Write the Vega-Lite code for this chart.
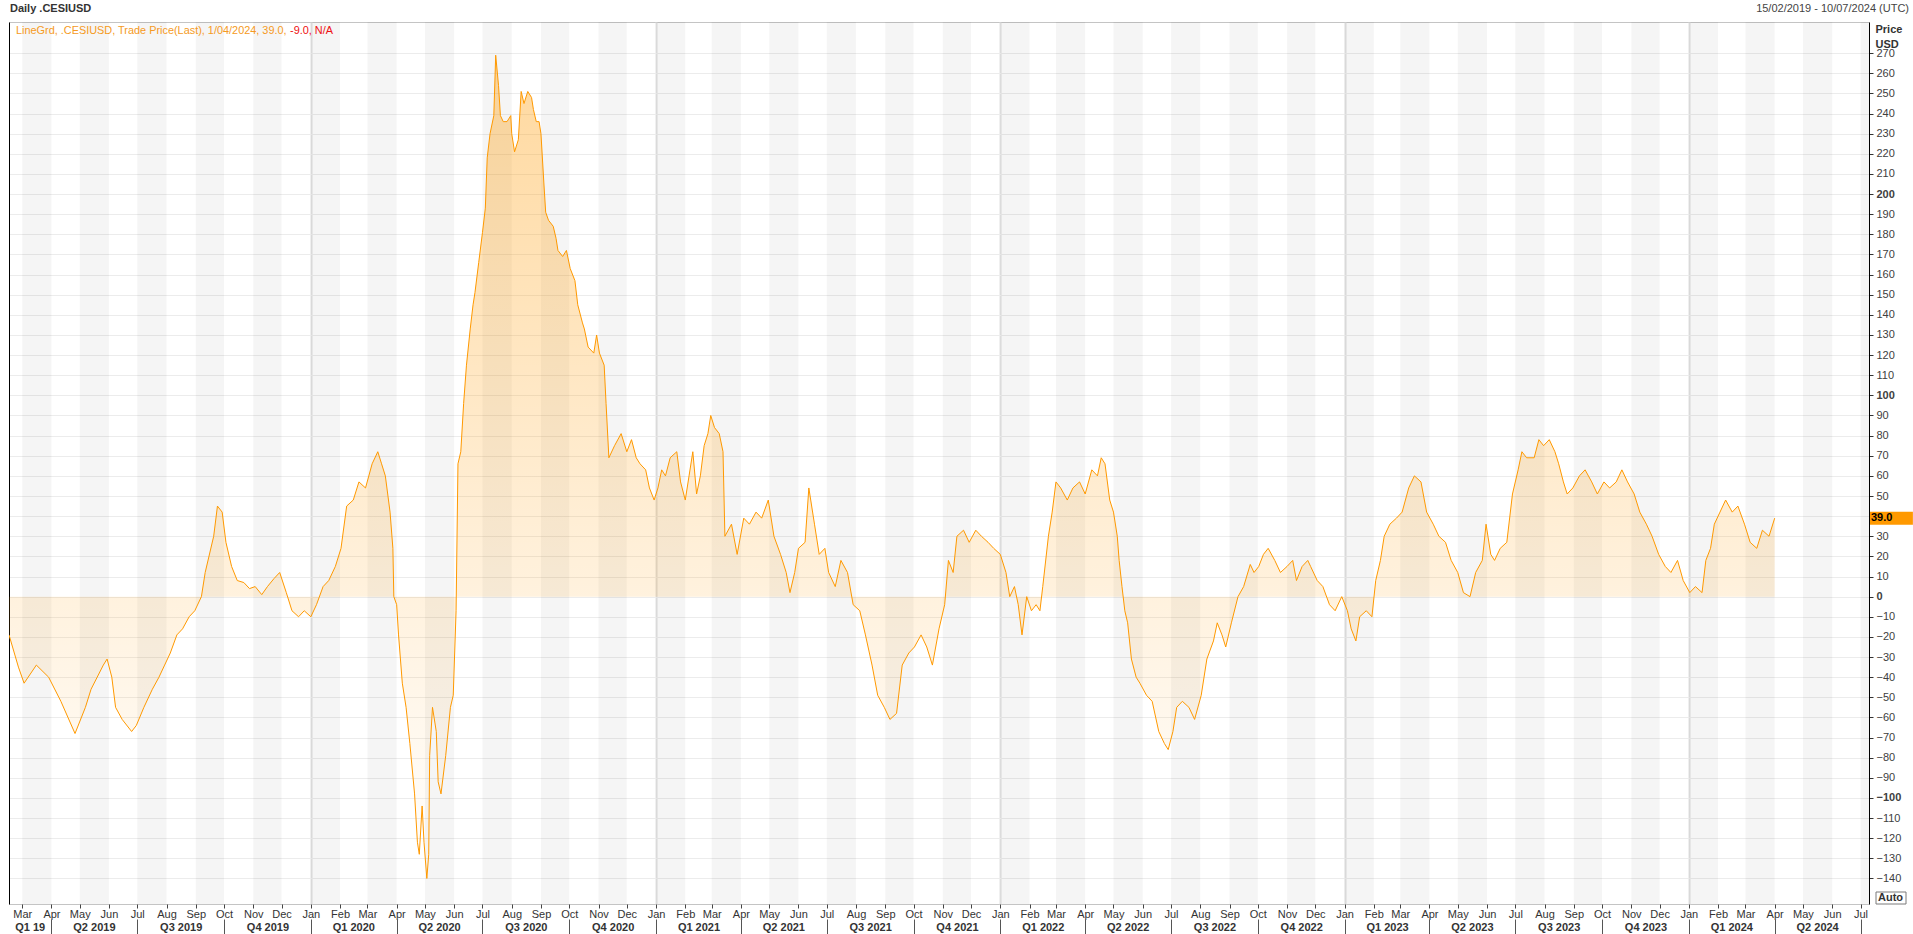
{
  "$schema": "https://vega.github.io/schema/vega-lite/v6.json",
  "width": 1860,
  "height": 882,
  "autosize": {"type": "none"},
  "padding": {"left": 9, "top": 22, "right": 44, "bottom": 30},
  "background": "white",
  "config": {
    "font": "Liberation Sans",
    "view": {"stroke": "#c4c4c4", "strokeWidth": 1},
    "axis": {"labelFont": "Liberation Sans", "titleFont": "Liberation Sans"},
    "text": {"font": "Liberation Sans"}
  },
  "datasets": {
    "cesi": [
      {"date":"2019-02-15","value":-19},{"date":"2019-02-25","value":-35},{"date":"2019-03-03","value":-43},{"date":"2019-03-16","value":-34},{"date":"2019-03-29","value":-40},{"date":"2019-04-11","value":-52},{"date":"2019-04-26","value":-68},{"date":"2019-05-07","value":-55},{"date":"2019-05-13","value":-46},{"date":"2019-05-26","value":-34},{"date":"2019-05-30","value":-31},{"date":"2019-06-04","value":-40},{"date":"2019-06-08","value":-55},{"date":"2019-06-15","value":-61},{"date":"2019-06-25","value":-67},{"date":"2019-06-30","value":-64},{"date":"2019-07-08","value":-55},{"date":"2019-07-17","value":-46},{"date":"2019-07-24","value":-40},{"date":"2019-07-30","value":-34},{"date":"2019-08-05","value":-28},{"date":"2019-08-12","value":-19},{"date":"2019-08-18","value":-16},{"date":"2019-08-25","value":-10},{"date":"2019-08-31","value":-7},{"date":"2019-09-07","value":0},{"date":"2019-09-11","value":12},{"date":"2019-09-20","value":30},{"date":"2019-09-24","value":45},{"date":"2019-09-29","value":42},{"date":"2019-10-03","value":27},{"date":"2019-10-09","value":15},{"date":"2019-10-15","value":8},{"date":"2019-10-22","value":7},{"date":"2019-10-28","value":4},{"date":"2019-11-03","value":5},{"date":"2019-11-10","value":1},{"date":"2019-11-16","value":5},{"date":"2019-11-23","value":9},{"date":"2019-11-29","value":12},{"date":"2019-12-06","value":2},{"date":"2019-12-12","value":-7},{"date":"2019-12-19","value":-10},{"date":"2019-12-25","value":-7},
      {"date":"2020-01-01","value":-10},{"date":"2020-01-07","value":-4},{"date":"2020-01-14","value":5},{"date":"2020-01-20","value":8},{"date":"2020-01-27","value":15},{"date":"2020-02-02","value":24},{"date":"2020-02-08","value":45},{"date":"2020-02-15","value":48},{"date":"2020-02-21","value":57},{"date":"2020-02-28","value":54},{"date":"2020-03-06","value":66},{"date":"2020-03-12","value":72},{"date":"2020-03-16","value":66},{"date":"2020-03-20","value":60},{"date":"2020-03-25","value":42},{"date":"2020-03-28","value":24},{"date":"2020-03-29","value":0},{"date":"2020-04-01","value":-4},{"date":"2020-04-03","value":-19},{"date":"2020-04-07","value":-43},{"date":"2020-04-11","value":-55},{"date":"2020-04-15","value":-73},{"date":"2020-04-20","value":-98},{"date":"2020-04-23","value":-122},{"date":"2020-04-25","value":-128},{"date":"2020-04-28","value":-104},{"date":"2020-04-30","value":-122},{"date":"2020-05-03","value":-140},{"date":"2020-05-05","value":-128},{"date":"2020-05-06","value":-79},{"date":"2020-05-09","value":-55},{"date":"2020-05-13","value":-67},{"date":"2020-05-15","value":-92},{"date":"2020-05-18","value":-98},{"date":"2020-05-23","value":-79},{"date":"2020-05-28","value":-55},{"date":"2020-05-31","value":-49},{"date":"2020-06-03","value":-7},{"date":"2020-06-05","value":66},{"date":"2020-06-08","value":72},{"date":"2020-06-11","value":96},{"date":"2020-06-14","value":115},{"date":"2020-06-18","value":133},{"date":"2020-06-21","value":145},{"date":"2020-06-23","value":151},{"date":"2020-06-27","value":166},{"date":"2020-07-01","value":181},{"date":"2020-07-04","value":193},{"date":"2020-07-06","value":218},{"date":"2020-07-09","value":230},{"date":"2020-07-13","value":239},{"date":"2020-07-15","value":269},{"date":"2020-07-18","value":254},{"date":"2020-07-20","value":239},{"date":"2020-07-23","value":236},{"date":"2020-07-27","value":236},{"date":"2020-07-31","value":239},{"date":"2020-08-01","value":230},{"date":"2020-08-04","value":221},{"date":"2020-08-08","value":227},{"date":"2020-08-11","value":251},{"date":"2020-08-14","value":245},{"date":"2020-08-18","value":251},{"date":"2020-08-22","value":248},{"date":"2020-08-24","value":242},{"date":"2020-08-27","value":236},{"date":"2020-08-30","value":236},{"date":"2020-09-01","value":230},{"date":"2020-09-04","value":206},{"date":"2020-09-06","value":191},{"date":"2020-09-09","value":187},{"date":"2020-09-14","value":184},{"date":"2020-09-17","value":178},{"date":"2020-09-19","value":172},{"date":"2020-09-24","value":169},{"date":"2020-09-28","value":172},{"date":"2020-10-02","value":163},{"date":"2020-10-07","value":157},{"date":"2020-10-10","value":145},{"date":"2020-10-15","value":136},{"date":"2020-10-17","value":133},{"date":"2020-10-21","value":124},{"date":"2020-10-27","value":121},{"date":"2020-10-30","value":130},{"date":"2020-11-02","value":121},{"date":"2020-11-07","value":115},{"date":"2020-11-09","value":96},{"date":"2020-11-12","value":69},{"date":"2020-11-18","value":75},{"date":"2020-11-25","value":81},{"date":"2020-12-01","value":72},{"date":"2020-12-06","value":78},{"date":"2020-12-11","value":69},{"date":"2020-12-15","value":66},{"date":"2020-12-21","value":63},{"date":"2020-12-25","value":54},{"date":"2020-12-30","value":48},
      {"date":"2021-01-03","value":54},{"date":"2021-01-07","value":63},{"date":"2021-01-11","value":60},{"date":"2021-01-16","value":69},{"date":"2021-01-23","value":72},{"date":"2021-01-27","value":57},{"date":"2021-02-01","value":48},{"date":"2021-02-05","value":60},{"date":"2021-02-09","value":72},{"date":"2021-02-13","value":51},{"date":"2021-02-17","value":60},{"date":"2021-02-21","value":75},{"date":"2021-02-25","value":81},{"date":"2021-02-28","value":90},{"date":"2021-03-04","value":84},{"date":"2021-03-09","value":81},{"date":"2021-03-13","value":72},{"date":"2021-03-15","value":30},{"date":"2021-03-22","value":36},{"date":"2021-03-28","value":21},{"date":"2021-04-04","value":39},{"date":"2021-04-10","value":36},{"date":"2021-04-17","value":42},{"date":"2021-04-23","value":39},{"date":"2021-04-30","value":48},{"date":"2021-05-06","value":30},{"date":"2021-05-13","value":21},{"date":"2021-05-19","value":12},{"date":"2021-05-23","value":2},{"date":"2021-05-28","value":12},{"date":"2021-06-01","value":24},{"date":"2021-06-08","value":27},{"date":"2021-06-12","value":54},{"date":"2021-06-14","value":48},{"date":"2021-06-18","value":36},{"date":"2021-06-23","value":21},{"date":"2021-06-29","value":24},{"date":"2021-07-03","value":12},{"date":"2021-07-10","value":5},{"date":"2021-07-16","value":18},{"date":"2021-07-23","value":12},{"date":"2021-07-29","value":-4},{"date":"2021-08-05","value":-7},{"date":"2021-08-11","value":-19},{"date":"2021-08-18","value":-34},{"date":"2021-08-24","value":-49},{"date":"2021-08-31","value":-55},{"date":"2021-09-06","value":-61},{"date":"2021-09-13","value":-58},{"date":"2021-09-19","value":-34},{"date":"2021-09-26","value":-28},{"date":"2021-10-02","value":-25},{"date":"2021-10-09","value":-19},{"date":"2021-10-15","value":-25},{"date":"2021-10-21","value":-34},{"date":"2021-10-28","value":-16},{"date":"2021-11-03","value":-4},{"date":"2021-11-07","value":18},{"date":"2021-11-12","value":12},{"date":"2021-11-16","value":30},{"date":"2021-11-23","value":33},{"date":"2021-11-29","value":27},{"date":"2021-12-06","value":33},{"date":"2021-12-12","value":30},{"date":"2021-12-19","value":27},{"date":"2021-12-25","value":24},
      {"date":"2022-01-01","value":21},{"date":"2022-01-07","value":12},{"date":"2022-01-11","value":0},{"date":"2022-01-16","value":5},{"date":"2022-01-20","value":-4},{"date":"2022-01-24","value":-19},{"date":"2022-01-29","value":0},{"date":"2022-02-03","value":-7},{"date":"2022-02-08","value":-4},{"date":"2022-02-12","value":-7},{"date":"2022-02-15","value":5},{"date":"2022-02-21","value":30},{"date":"2022-02-25","value":42},{"date":"2022-03-01","value":57},{"date":"2022-03-06","value":54},{"date":"2022-03-13","value":48},{"date":"2022-03-19","value":54},{"date":"2022-03-26","value":57},{"date":"2022-04-01","value":51},{"date":"2022-04-08","value":63},{"date":"2022-04-14","value":60},{"date":"2022-04-18","value":69},{"date":"2022-04-22","value":66},{"date":"2022-04-27","value":48},{"date":"2022-05-01","value":42},{"date":"2022-05-05","value":30},{"date":"2022-05-07","value":18},{"date":"2022-05-10","value":5},{"date":"2022-05-13","value":-7},{"date":"2022-05-16","value":-13},{"date":"2022-05-20","value":-31},{"date":"2022-05-25","value":-40},{"date":"2022-05-29","value":-43},{"date":"2022-06-05","value":-49},{"date":"2022-06-11","value":-52},{"date":"2022-06-18","value":-67},{"date":"2022-06-24","value":-73},{"date":"2022-06-28","value":-76},{"date":"2022-07-03","value":-67},{"date":"2022-07-07","value":-55},{"date":"2022-07-13","value":-52},{"date":"2022-07-20","value":-55},{"date":"2022-07-26","value":-61},{"date":"2022-08-02","value":-49},{"date":"2022-08-08","value":-31},{"date":"2022-08-15","value":-22},{"date":"2022-08-19","value":-13},{"date":"2022-08-24","value":-19},{"date":"2022-08-28","value":-25},{"date":"2022-09-03","value":-13},{"date":"2022-09-10","value":0},{"date":"2022-09-16","value":5},{"date":"2022-09-23","value":16},{"date":"2022-09-27","value":12},{"date":"2022-10-02","value":15},{"date":"2022-10-07","value":21},{"date":"2022-10-12","value":24},{"date":"2022-10-19","value":18},{"date":"2022-10-25","value":12},{"date":"2022-11-01","value":15},{"date":"2022-11-07","value":18},{"date":"2022-11-11","value":8},{"date":"2022-11-17","value":15},{"date":"2022-11-23","value":18},{"date":"2022-11-26","value":15},{"date":"2022-12-03","value":8},{"date":"2022-12-09","value":5},{"date":"2022-12-16","value":-4},{"date":"2022-12-22","value":-7},{"date":"2022-12-29","value":0},
      {"date":"2023-01-04","value":-7},{"date":"2023-01-08","value":-16},{"date":"2023-01-13","value":-22},{"date":"2023-01-17","value":-10},{"date":"2023-01-24","value":-7},{"date":"2023-01-30","value":-10},{"date":"2023-02-03","value":8},{"date":"2023-02-08","value":18},{"date":"2023-02-12","value":30},{"date":"2023-02-18","value":36},{"date":"2023-02-25","value":39},{"date":"2023-03-03","value":42},{"date":"2023-03-10","value":54},{"date":"2023-03-16","value":60},{"date":"2023-03-23","value":57},{"date":"2023-03-29","value":42},{"date":"2023-04-05","value":36},{"date":"2023-04-11","value":30},{"date":"2023-04-18","value":27},{"date":"2023-04-24","value":18},{"date":"2023-05-01","value":12},{"date":"2023-05-07","value":2},{"date":"2023-05-14","value":0},{"date":"2023-05-20","value":12},{"date":"2023-05-27","value":18},{"date":"2023-05-31","value":36},{"date":"2023-06-05","value":21},{"date":"2023-06-09","value":18},{"date":"2023-06-15","value":24},{"date":"2023-06-22","value":27},{"date":"2023-06-28","value":51},{"date":"2023-07-04","value":63},{"date":"2023-07-08","value":72},{"date":"2023-07-13","value":69},{"date":"2023-07-21","value":69},{"date":"2023-07-26","value":78},{"date":"2023-07-31","value":75},{"date":"2023-08-06","value":78},{"date":"2023-08-12","value":72},{"date":"2023-08-16","value":66},{"date":"2023-08-21","value":57},{"date":"2023-08-25","value":51},{"date":"2023-08-31","value":54},{"date":"2023-09-07","value":60},{"date":"2023-09-13","value":63},{"date":"2023-09-20","value":57},{"date":"2023-09-26","value":51},{"date":"2023-10-03","value":57},{"date":"2023-10-09","value":54},{"date":"2023-10-16","value":57},{"date":"2023-10-22","value":63},{"date":"2023-10-28","value":57},{"date":"2023-11-04","value":51},{"date":"2023-11-10","value":42},{"date":"2023-11-17","value":36},{"date":"2023-11-23","value":30},{"date":"2023-11-30","value":21},{"date":"2023-12-07","value":15},{"date":"2023-12-13","value":12},{"date":"2023-12-20","value":18},{"date":"2023-12-26","value":8},
      {"date":"2024-01-02","value":2},{"date":"2024-01-08","value":5},{"date":"2024-01-15","value":2},{"date":"2024-01-19","value":18},{"date":"2024-01-24","value":24},{"date":"2024-01-28","value":36},{"date":"2024-02-03","value":42},{"date":"2024-02-09","value":48},{"date":"2024-02-16","value":42},{"date":"2024-02-22","value":45},{"date":"2024-02-29","value":36},{"date":"2024-03-06","value":27},{"date":"2024-03-13","value":24},{"date":"2024-03-19","value":33},{"date":"2024-03-26","value":30},{"date":"2024-04-01","value":39}
    ],
    "last": [{"date": "2024-04-01", "value": 39}],
    "bands": [
      {"start":"2019-03-01","end":"2019-04-01"},{"start":"2019-05-01","end":"2019-06-01"},{"start":"2019-07-01","end":"2019-08-01"},{"start":"2019-09-01","end":"2019-10-01"},{"start":"2019-11-01","end":"2019-12-01"},
      {"start":"2020-01-01","end":"2020-02-01"},{"start":"2020-03-01","end":"2020-04-01"},{"start":"2020-05-01","end":"2020-06-01"},{"start":"2020-07-01","end":"2020-08-01"},{"start":"2020-09-01","end":"2020-10-01"},{"start":"2020-11-01","end":"2020-12-01"},
      {"start":"2021-01-01","end":"2021-02-01"},{"start":"2021-03-01","end":"2021-04-01"},{"start":"2021-05-01","end":"2021-06-01"},{"start":"2021-07-01","end":"2021-08-01"},{"start":"2021-09-01","end":"2021-10-01"},{"start":"2021-11-01","end":"2021-12-01"},
      {"start":"2022-01-01","end":"2022-02-01"},{"start":"2022-03-01","end":"2022-04-01"},{"start":"2022-05-01","end":"2022-06-01"},{"start":"2022-07-01","end":"2022-08-01"},{"start":"2022-09-01","end":"2022-10-01"},{"start":"2022-11-01","end":"2022-12-01"},
      {"start":"2023-01-01","end":"2023-02-01"},{"start":"2023-03-01","end":"2023-04-01"},{"start":"2023-05-01","end":"2023-06-01"},{"start":"2023-07-01","end":"2023-08-01"},{"start":"2023-09-01","end":"2023-10-01"},{"start":"2023-11-01","end":"2023-12-01"},
      {"start":"2024-01-01","end":"2024-02-01"},{"start":"2024-03-01","end":"2024-04-01"},{"start":"2024-05-01","end":"2024-06-01"},{"start":"2024-07-01","end":"2024-08-01"}
    ],
    "title": [{"label": "Daily .CESIUSD"}],
    "legendA": [{"label": "LineGrd, .CESIUSD, Trade Price(Last), 1/04/2024, 39.0,"}],
    "legendB": [{"label": "-9.0, N/A"}],
    "range": [{"label": "15/02/2019 - 10/07/2024 (UTC)"}],
    "auto": [{"label": "Auto"}]
  },
  "resolve": {"axis": {"x": "independent", "y": "independent"}},
  "layer": [
    {
      "data": {"name": "bands"},
      "mark": {"type": "rect", "color": "#000000", "opacity": 0.04, "clip": true},
      "encoding": {
        "x": {"field": "start", "type": "temporal",
          "scale": {"type": "utc", "domain": [{"year": 2019, "month": 2, "date": 15, "utc": true}, {"year": 2024, "month": 7, "date": 10, "utc": true}]},
          "axis": {"orient": "bottom", "title": null, "domain": false, "ticks": false, "tickSize": 0, "grid": false,
            "values": [
              {"year":2019,"month":3,"date":9,"utc":true},{"year":2019,"month":5,"date":16,"utc":true},{"year":2019,"month":8,"date":16,"utc":true},{"year":2019,"month":11,"date":16,"utc":true},
              {"year":2020,"month":2,"date":15,"utc":true},{"year":2020,"month":5,"date":16,"utc":true},{"year":2020,"month":8,"date":16,"utc":true},{"year":2020,"month":11,"date":16,"utc":true},
              {"year":2021,"month":2,"date":15,"utc":true},{"year":2021,"month":5,"date":16,"utc":true},{"year":2021,"month":8,"date":16,"utc":true},{"year":2021,"month":11,"date":16,"utc":true},
              {"year":2022,"month":2,"date":15,"utc":true},{"year":2022,"month":5,"date":16,"utc":true},{"year":2022,"month":8,"date":16,"utc":true},{"year":2022,"month":11,"date":16,"utc":true},
              {"year":2023,"month":2,"date":15,"utc":true},{"year":2023,"month":5,"date":16,"utc":true},{"year":2023,"month":8,"date":16,"utc":true},{"year":2023,"month":11,"date":16,"utc":true},
              {"year":2024,"month":2,"date":15,"utc":true},{"year":2024,"month":5,"date":16,"utc":true}
            ],
            "labelExpr": "'Q' + utcquarter(datum.value) + ' ' + ((utcyear(datum.value) === 2019 && utcquarter(datum.value) === 1) ? '19' : utcyear(datum.value))",
            "labelFontWeight": "bold", "labelFontSize": 11, "labelColor": "#333333", "labelPadding": 17, "labelOverlap": false, "labelFlush": false}
        },
        "x2": {"field": "end"}
      }
    },
    {
      "data": {"name": "cesi"},
      "mark": {"type": "area", "clip": true, "fill": {"gradient": "linear", "x1": 0, "y1": 0, "x2": 0, "y2": 1, "stops": [{"offset": 0, "color": "rgba(255,153,0,0.38)"}, {"offset": 1, "color": "rgba(255,153,0,0)"}]}},
      "encoding": {
        "x": {"field": "date", "type": "temporal",
          "scale": {"type": "utc", "domain": [{"year": 2019, "month": 2, "date": 15, "utc": true}, {"year": 2024, "month": 7, "date": 10, "utc": true}]},
          "axis": {"orient": "bottom", "title": null, "domain": false, "tickCount": {"interval": "month", "step": 1},
            "labelExpr": "utcFormat(datum.value, '%b')",
            "tickSize": 4, "tickColor": "#444444", "labelPadding": 0, "labelFontSize": 11, "labelColor": "#333333", "labelOverlap": false, "labelFlush": false,
            "grid": true, "gridWidth": 2, "gridColor": {"condition": {"test": "utcmonth(datum.value) === 0", "value": "#e2e2e2"}, "value": "rgba(0,0,0,0)"}}
        },
        "y": {"field": "value", "type": "quantitative",
          "scale": {"domain": [-152.7, 285.5], "nice": false, "zero": false},
          "axis": {"orient": "right", "values": [-140,-130,-120,-110,-100,-90,-80,-70,-60,-50,-40,-30,-20,-10,0,10,20,30,40,50,60,70,80,90,100,110,120,130,140,150,160,170,180,190,200,210,220,230,240,250,260,270],
            "labelExpr": "datum.value === 40 ? '' : datum.label",
            "tickSize": 4, "tickColor": "#333333", "labelPadding": 3, "labelAlign": "left", "labelFontSize": 11, "labelColor": "#404040",
            "labelFontWeight": {"condition": {"test": "datum.value % 100 === 0", "value": "bold"}, "value": "normal"},
            "labelOverlap": false, "labelFlush": false,
            "domain": true, "domainColor": "#000000", "domainWidth": 1,
            "grid": true, "gridColor": "#ececec", "gridWidth": 1,
            "title": ["Price", "USD"], "titleAngle": 0, "titleAlign": "left", "titleBaseline": "alphabetic", "titleX": 6, "titleY": 10, "titleFontSize": 11, "titleFontWeight": "bold", "titleColor": "#333333", "titleLineHeight": 15}
        },
        "y2": {"datum": 0}
      }
    },
    {
      "data": {"name": "cesi"},
      "mark": {"type": "line", "color": "#ff9900", "strokeWidth": 1, "clip": true},
      "encoding": {
        "x": {"field": "date", "type": "temporal",
          "scale": {"type": "utc", "domain": [{"year": 2019, "month": 2, "date": 15, "utc": true}, {"year": 2024, "month": 7, "date": 10, "utc": true}]},
          "axis": {"orient": "bottom", "title": null, "domain": false, "labels": false, "grid": false, "offset": 15, "tickSize": 15, "tickColor": "#555555",
            "values": [
              {"year":2019,"month":4,"date":1,"utc":true},{"year":2019,"month":7,"date":1,"utc":true},{"year":2019,"month":10,"date":1,"utc":true},
              {"year":2020,"month":1,"date":1,"utc":true},{"year":2020,"month":4,"date":1,"utc":true},{"year":2020,"month":7,"date":1,"utc":true},{"year":2020,"month":10,"date":1,"utc":true},
              {"year":2021,"month":1,"date":1,"utc":true},{"year":2021,"month":4,"date":1,"utc":true},{"year":2021,"month":7,"date":1,"utc":true},{"year":2021,"month":10,"date":1,"utc":true},
              {"year":2022,"month":1,"date":1,"utc":true},{"year":2022,"month":4,"date":1,"utc":true},{"year":2022,"month":7,"date":1,"utc":true},{"year":2022,"month":10,"date":1,"utc":true},
              {"year":2023,"month":1,"date":1,"utc":true},{"year":2023,"month":4,"date":1,"utc":true},{"year":2023,"month":7,"date":1,"utc":true},{"year":2023,"month":10,"date":1,"utc":true},
              {"year":2024,"month":1,"date":1,"utc":true},{"year":2024,"month":4,"date":1,"utc":true},{"year":2024,"month":7,"date":1,"utc":true}
            ]}
        },
        "y": {"field": "value", "type": "quantitative",
          "axis": {"orient": "left", "title": null, "labels": false, "ticks": false, "grid": false, "domain": true, "domainColor": "#000000", "domainWidth": 1}}
      }
    },
    {
      "data": {"name": "last"},
      "mark": {"type": "point", "shape": "M0,-1L6.6,-1L6.6,1L0,1Z", "size": 169, "filled": true, "fill": "#ff9900", "opacity": 1, "strokeWidth": 0, "clip": false, "xOffset": 1},
      "encoding": {
        "x": {"value": "width"},
        "y": {"field": "value", "type": "quantitative", "axis": null}
      }
    },
    {
      "data": {"name": "last"},
      "mark": {"type": "text", "align": "left", "baseline": "middle", "dx": 2, "fontSize": 11, "fontWeight": "bold", "color": "#000000", "clip": false},
      "encoding": {
        "x": {"value": "width"},
        "y": {"field": "value", "type": "quantitative", "axis": null},
        "text": {"field": "value", "type": "quantitative", "format": ".1f"}
      }
    },
    {
      "data": {"name": "title"},
      "mark": {"type": "text", "align": "left", "baseline": "middle", "fontSize": 11, "fontWeight": "bold", "color": "#333333", "clip": false, "dx": 1, "dy": -13},
      "encoding": {"x": {"value": 0}, "y": {"value": 0}, "text": {"field": "label"}}
    },
    {
      "data": {"name": "legendA"},
      "mark": {"type": "text", "align": "left", "baseline": "middle", "fontSize": 10.9, "color": "#f59a23"},
      "encoding": {"x": {"value": 7}, "y": {"value": 9}, "text": {"field": "label"}}
    },
    {
      "data": {"name": "legendB"},
      "mark": {"type": "text", "align": "left", "baseline": "middle", "fontSize": 10.9, "color": "#ee1111"},
      "encoding": {"x": {"value": 281}, "y": {"value": 9}, "text": {"field": "label"}}
    },
    {
      "data": {"name": "range"},
      "mark": {"type": "text", "align": "right", "baseline": "middle", "fontSize": 11, "color": "#444444", "clip": false, "dx": 40, "dy": -13},
      "encoding": {"x": {"value": "width"}, "y": {"value": 0}, "text": {"field": "label"}}
    },
    {
      "data": {"name": "auto"},
      "mark": {"type": "point", "shape": "M0,-1L5,-1L5,1L0,1Z", "size": 144, "filled": false, "fill": null, "stroke": "#7a7a7a", "strokeWidth": 1, "opacity": 1, "clip": false, "xOffset": 7, "yOffset": -6},
      "encoding": {"x": {"value": "width"}, "y": {"value": "height"}}
    },
    {
      "data": {"name": "auto"},
      "mark": {"type": "text", "align": "left", "baseline": "middle", "fontSize": 11, "fontWeight": "bold", "color": "#333333", "clip": false, "dx": 9, "dy": -6},
      "encoding": {"x": {"value": "width"}, "y": {"value": "height"}, "text": {"field": "label"}}
    }
  ]
}
